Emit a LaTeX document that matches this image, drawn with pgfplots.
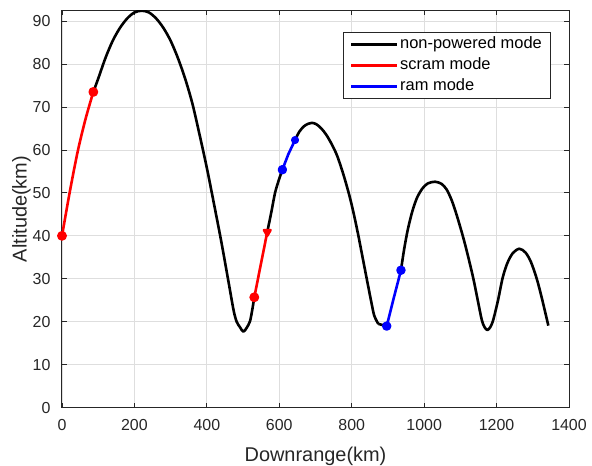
\documentclass[border=0pt]{standalone}
\usepackage{fontspec}
\setmainfont{Liberation Sans}
\usepackage{pgfplots}
\pgfplotsset{compat=1.18}
\definecolor{axgray}{RGB}{38,38,38}
\definecolor{gridgray}{RGB}{222,222,222}
\definecolor{mred}{RGB}{255,0,0}
\definecolor{mblue}{RGB}{0,0,255}

\begin{document}
\begin{tikzpicture}
\path[use as bounding box] (-62bp,-58.3bp) rectangle (530bp,407.7bp);
\begin{axis}[
  scale only axis,
  width=507bp, height=397.4bp,
  xmin=0, xmax=1400, ymin=0, ymax=92.5,
  xtick={0,200,...,1400}, ytick={0,10,...,90},
  tick pos=both, tick align=inside,
  major tick length=5bp,
  grid=major,
  major grid style={gridgray, line width=0.8bp},
  axis line style={axgray, line width=1bp},
  tick style={axgray, line width=0.8bp},
  /pgf/number format/assume math mode=true,
  /pgf/number format/1000 sep={},
  tick label style={font=\fontsize{16}{19}\selectfont, text=axgray},
  x tick label style={yshift=-8bp},
  y tick label style={xshift=-8bp},
  xlabel={Downrange(km)}, ylabel={Altitude(km)},
  every axis x label/.style={at={(axis description cs:0.5,-0.1359)}, anchor=base,
    font=\fontsize{20}{24}\selectfont, text=axgray},
  every axis y label/.style={at={(axis description cs:-0.0696,0.5)}, anchor=base, rotate=90,
    font=\fontsize{20}{24}\selectfont, text=axgray},
  legend style={at={(0.964,0.946)}, anchor=north east, draw=axgray, line width=0.8bp,
    font=\fontsize{16.5}{19}\selectfont, inner xsep=7bp, inner ysep=3bp,
    nodes={inner sep=1.5bp, text height=12bp, text depth=3.5bp},
    row sep=2.5bp, cells={anchor=west}},
  legend image code/.code={\draw[#1, line width=2.6bp] (0bp,0bp) -- (46bp,0bp);},
  every axis plot/.append style={line width=2.6bp, line join=round},
]
% non-powered mode
\addplot[black, no markers, smooth, tension=0.5] coordinates {
(86.5,73.5) (100,76.6) (120,81.4) (140,85.4) (160,88.4) (180,90.6) (200,92.0)
(220,92.4) (240,92.0) (260,90.6) (280,88.4) (300,85.4) (320,81.4) (340,76.6)
(360,70.8) (380,63.5) (400,55.8) (420,47.3) (440,38.6) (460,29.2) (474,22.6)
(482.4,20.0) (491,18.8) (500.7,17.7) (510,18.6) (519,20.1) (525,22.6) (531,25.7)
};
\addlegendentry{non-powered mode}
% scram mode
\addplot[mred, no markers, smooth, tension=0.5] coordinates {
(0,40) (21,50) (43,59.5) (65,67.2) (86.5,73.5)
};
\addlegendentry{scram mode}
% ram mode
\addplot[mblue, no markers] coordinates {
(608.5,55.4) (625,59) (643.5,62.3)
};
\addlegendentry{ram mode}

\addplot[black, no markers, smooth, tension=0.5, forget plot] coordinates {
(566.8,40.9) (578,45.5) (588,49.9) (598,52.8) (608.5,55.4)
};
\addplot[black, no markers, smooth, tension=0.5, forget plot] coordinates {
(643.5,62.3) (655,64.2) (668,65.5) (680,66.1) (690,66.3) (702,66.0) (716,65.0)
(730,63.5) (745,61.3) (760,58.6) (777,54.3) (793.5,49.4) (806,45.0) (818,40.2)
(830,35.0) (841.5,30.0) (852,25.5) (862,21.5) (873.6,19.5)
};
\addplot[black, no markers, forget plot] coordinates {
(873.6,19.5) (896.6,19.0)
};
\addplot[black, no markers, smooth, tension=0.5, forget plot] coordinates {
(936,32) (945,37) (955,41.5) (967,45.6) (980,48.8) (995,51.0) (1010,52.2)
(1030,52.6) (1048,52.1) (1062,50.8) (1076,48.3) (1090,44.8) (1108,39.6) (1122,35)
(1136,30) (1148,25) (1159,20.5) (1167,18.7) (1175,18.1) (1183,18.8) (1191,20.5)
(1204,25) (1217,30.3) (1230,33.7) (1245,36.0) (1263,37.0) (1280,36.1) (1295,33.9)
(1311,30.0) (1325,25.5) (1343,19.1)
};
\addplot[mred, no markers, forget plot] coordinates {
(531,25.7) (566.8,40.9)
};
\addplot[mblue, no markers, forget plot] coordinates {
(896.6,19.0) (916,25.5) (936,32)
};
% markers
\addplot[only marks, mark=*, mark size=3.6bp, mred, forget plot] coordinates {
(0,40) (86.5,73.5) (531,25.7)
};
\addplot[only marks, mark=triangle*, mark size=3.8bp, mred, mark options={rotate=180}, forget plot] coordinates {
(566.8,40.9)
};
\addplot[only marks, mark=*, mark size=3.4bp, mblue, forget plot] coordinates {
(608.5,55.4) (896.6,19.0) (936,32)
};
\addplot[only marks, mark=*, mark size=2.7bp, mblue, forget plot] coordinates {
(643.5,62.3)
};
\end{axis}
\end{tikzpicture}
\end{document}
